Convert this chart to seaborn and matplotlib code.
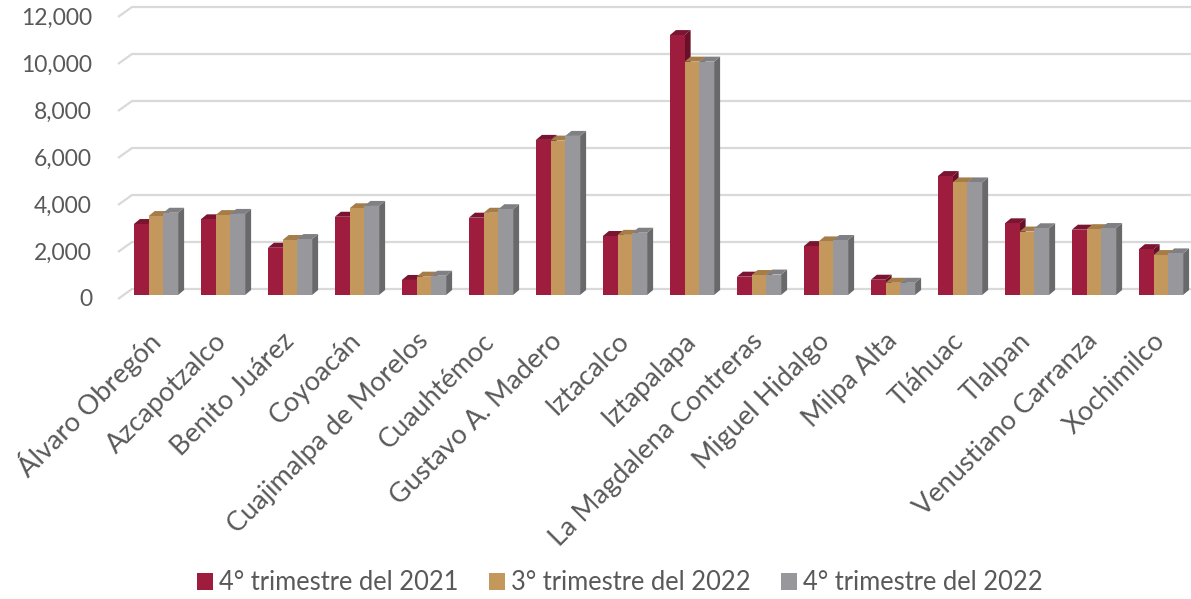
import matplotlib
matplotlib.use("Agg")
import matplotlib.pyplot as plt
import matplotlib.transforms as mtransforms
from matplotlib.patches import Polygon, Patch
import pandas as pd
import seaborn as sns

# Alcaldías de la Ciudad de México
alcaldias = [
    "Álvaro Obregón", "Azcapotzalco", "Benito Juárez", "Coyoacán",
    "Cuajimalpa de Morelos", "Cuauhtémoc", "Gustavo A. Madero", "Iztacalco",
    "Iztapalapa", "La Magdalena Contreras", "Miguel Hidalgo", "Milpa Alta",
    "Tláhuac", "Tlalpan", "Venustiano Carranza", "Xochimilco",
]
periodos = ["4° trimestre del 2021", "3° trimestre del 2022", "4° trimestre del 2022"]

t4_2021 = [3020, 3220, 2010, 3330, 640, 3290, 6600, 2510, 11060, 780, 2080, 650, 5060, 3050, 2780, 1950]
t3_2022 = [3360, 3400, 2340, 3690, 780, 3500, 6570, 2560, 9930, 850, 2280, 520, 4790, 2700, 2800, 1700]
t4_2022 = [3500, 3450, 2380, 3790, 820, 3650, 6770, 2650, 9930, 870, 2340, 520, 4790, 2840, 2850, 1770]

yticks = [0, 2000, 4000, 6000, 8000, 10000, 12000]

front_colors = ["#9E1C3E", "#C4975C", "#98989C"]
top_colors = ["#7A1430", "#A67D48", "#808084"]
side_colors = ["#681028", "#8E6A3A", "#69696C"]
text_color = "#595959"
grid_color = "#D9D9D9"

df = pd.DataFrame({
    "alcaldia": alcaldias * 3,
    "periodo": [p for p in periodos for _ in alcaldias],
    "valor": t4_2021 + t3_2022 + t4_2022,
})

sns.set_style("white")
plt.rcParams["font.family"] = ["Lato", "DejaVu Sans"]

W, H, DPI = 1191, 599, 100
fig = plt.figure(figsize=(W / DPI, H / DPI), dpi=DPI)

# axes geometry in pixels
ax_left, ax_bottom_px, ax_top_px = 116, 310, 0
base_px = 295            # pixel row of the value 0 on the bar fronts
px_per_unit = 0.0235     # vertical pixels per unit of value
px_per_cat = 67          # horizontal pixels per category
first_center_px = 156

ax = fig.add_axes([ax_left / W, (H - ax_bottom_px) / H,
                   (W - ax_left) / W, (ax_bottom_px - ax_top_px) / H])

sns.barplot(data=df, x="alcaldia", y="valor", hue="periodo",
            palette=front_colors, saturation=1, width=0.66,
            linewidth=0, ax=ax, legend=False, zorder=3)

x0 = -(first_center_px - ax_left) / px_per_cat
ax.set_xlim(x0, x0 + (W - ax_left) / px_per_cat)
ax.set_ylim(-(ax_bottom_px - base_px) / px_per_unit, (base_px - ax_top_px) / px_per_unit)

ux = 1 / px_per_cat      # data units per horizontal pixel
uy = 1 / px_per_unit     # data units per vertical pixel

# back-wall gridlines with their slanted floor edge
xmax = ax.get_xlim()[1]
for v in yticks:
    ax.plot([x0 + 2 * ux, x0 + 16 * ux, xmax],
            [v - 4 * uy, v + 6 * uy, v + 6 * uy],
            color=grid_color, lw=1.6, zorder=1, solid_capstyle="butt")

# depth faces (top and right side) for each column
dx, dy = 6 * ux, 5 * uy
for i, cont in enumerate(ax.containers):
    for bar in cont:
        bx, bw, bh = bar.get_x(), bar.get_width(), bar.get_height()
        side = Polygon([(bx + bw, 0), (bx + bw, bh), (bx + bw + dx, bh + dy), (bx + bw + dx, dy)],
                       closed=True, facecolor=side_colors[i], edgecolor="none", zorder=2.5)
        top = Polygon([(bx, bh), (bx + bw, bh), (bx + bw + dx, bh + dy), (bx + dx, bh + dy)],
                      closed=True, facecolor=top_colors[i], edgecolor="none", zorder=2.6)
        ax.add_patch(side)
        ax.add_patch(top)

# value axis labels
ax.set_yticks([])
lab_tr = ax.get_yaxis_transform() + mtransforms.ScaledTranslation(-24 / DPI, -5 / DPI, fig.dpi_scale_trans)
for v in yticks:
    ax.text(0, v, f"{v:,}", transform=lab_tr, ha="right", va="center",
            fontsize=16.5, color=text_color)

# category labels
ax.set_xticks(range(len(alcaldias)))
ax.set_xticklabels(alcaldias, rotation=45, ha="right", va="center",
                   rotation_mode="anchor", fontsize=19.5, color=text_color)
ax.tick_params(axis="x", length=0, pad=19.5)
ax.set_xlabel("")
ax.set_ylabel("")
for s in ax.spines.values():
    s.set_visible(False)

handles = [Patch(facecolor=c, edgecolor="none", label=p) for c, p in zip(front_colors, periodos)]
fig.legend(handles=handles, loc="center", bbox_to_anchor=(620 / W, 1 - 583 / H),
           ncol=3, frameon=False, fontsize=18.4, labelcolor=text_color,
           handlelength=0.6, handleheight=0.6, handletextpad=0.25, columnspacing=1.2)

fig.savefig("out.png", dpi=DPI, facecolor="white")
